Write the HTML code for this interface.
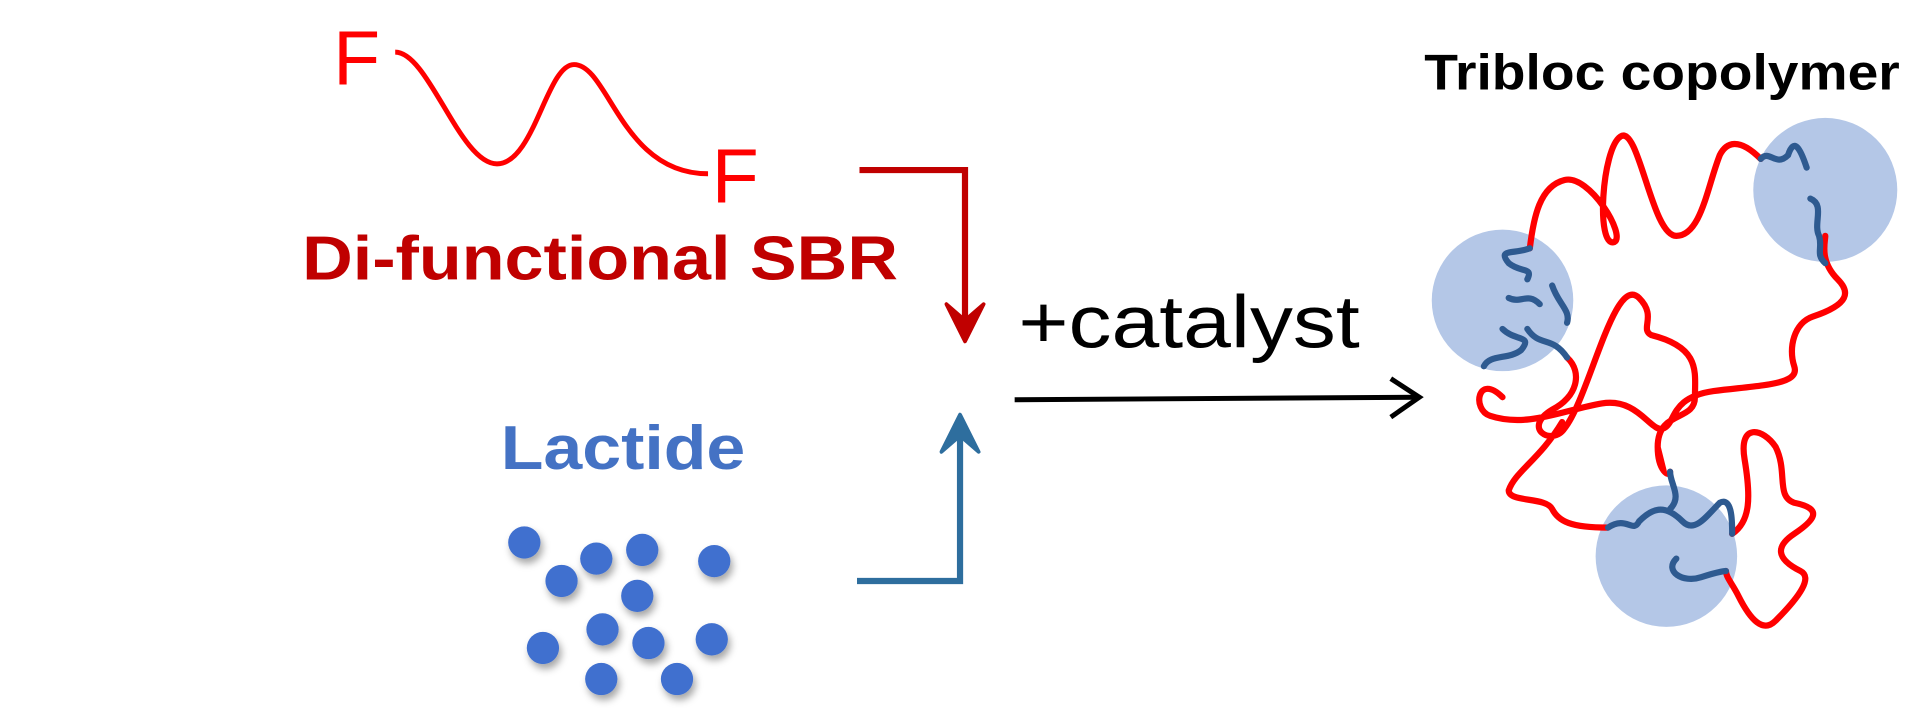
<!DOCTYPE html>
<html><head><meta charset="utf-8"><style>html,body{margin:0;padding:0;background:#fff}svg{display:block}</style></head>
<body>
<svg width="1930" height="720" viewBox="0 0 1554 580" xmlns="http://www.w3.org/2000/svg">
<defs><filter id="sh" x="-50%" y="-50%" width="200%" height="200%"><feDropShadow dx="2" dy="4" stdDeviation="3" flood-color="#000" flood-opacity="0.35"/></filter></defs>
<text x="268" y="68" font-family="Liberation Sans, sans-serif" font-size="62" fill="#ff0000">F</text>
<text x="573" y="163" font-family="Liberation Sans, sans-serif" font-size="62" fill="#ff0000">F</text>
<path d="M318,42 C345,42 370,132 400,132 C430,132 440,52 462,52 C490,52 500,140 570,140" fill="none" stroke="#ff0000" stroke-width="4"/>
<text x="243" y="225" font-family="Liberation Sans, sans-serif" font-weight="bold" font-size="50" fill="#c00000" textLength="480" lengthAdjust="spacingAndGlyphs">Di-functional SBR</text>
<polyline points="692,137 777,137 777,262" fill="none" stroke="#c00000" stroke-width="5"/>
<path d="M762,245 L777,275 L792,245 L777,258 Z" fill="#c00000" stroke="#c00000" stroke-width="3" stroke-linejoin="round"/>
<text x="820" y="280" font-family="Liberation Sans, sans-serif" font-size="60" fill="#000" textLength="275" lengthAdjust="spacingAndGlyphs">+catalyst</text>
<line x1="817" y1="322" x2="1141" y2="320" stroke="#000" stroke-width="4"/>
<path d="M1120,305 L1143,320 L1120,336" fill="none" stroke="#000" stroke-width="4"/>
<polyline points="690,468 773,468 773,345" fill="none" stroke="#2e6e9e" stroke-width="5"/>
<path d="M758,364 L773,334 L788,364 L773,351 Z" fill="#2e6e9e" stroke="#2e6e9e" stroke-width="3" stroke-linejoin="round"/>
<text x="403" y="378" font-family="Liberation Sans, sans-serif" font-weight="bold" font-size="50" fill="#4472c4" textLength="197" lengthAdjust="spacingAndGlyphs">Lactide</text>
<g fill="#3f6fcf" filter="url(#sh)">
<circle cx="422" cy="437" r="13"/><circle cx="480" cy="450" r="13"/><circle cx="517" cy="443" r="13"/><circle cx="575" cy="452" r="13"/>
<circle cx="452" cy="468" r="13"/><circle cx="513" cy="480" r="13"/><circle cx="485" cy="507" r="13"/><circle cx="522" cy="518" r="13"/>
<circle cx="573" cy="515" r="13"/><circle cx="437" cy="522" r="13"/><circle cx="484" cy="547" r="13"/><circle cx="545" cy="547" r="13"/>
</g>
<text x="1147" y="72" font-family="Liberation Sans, sans-serif" font-weight="bold" font-size="40" fill="#000" textLength="383" lengthAdjust="spacingAndGlyphs">Tribloc copolymer</text>
<circle cx="1470" cy="153" r="58" fill="#b4c7e7"/>
<circle cx="1210" cy="242" r="57" fill="#b4c7e7"/>
<circle cx="1342" cy="448" r="57" fill="#b4c7e7"/>
<path d="M1418,128 C1400,110 1390,115 1385,125 C1375,150 1370,190 1350,190 C1330,190 1320,100 1305,110 C1290,120 1285,200 1300,195 C1310,190 1280,140 1260,145 C1240,150 1235,175 1232,200
M1210,320 C1190,300 1185,330 1200,335 C1230,345 1260,330 1290,325 C1320,320 1330,350 1340,345 C1350,340 1345,320 1380,315 C1420,310 1450,310 1445,295 C1440,280 1445,260 1460,255 C1490,245 1490,235 1480,225 C1465,210 1470,195 1470,190
M1262,288 C1275,300 1270,320 1250,330 C1225,345 1250,360 1260,345 C1280,320 1300,220 1320,240 C1335,255 1320,265 1330,270 C1370,280 1365,300 1365,320 C1365,340 1335,330 1335,360 C1335,380 1345,385 1345,380
M1258,340 C1240,370 1220,380 1215,395 C1215,405 1245,400 1250,410 C1255,420 1265,425 1295,425
M1395,430 C1410,420 1410,400 1405,370 C1400,340 1420,345 1430,360 C1440,380 1430,400 1445,405 C1470,410 1460,420 1445,430 C1430,440 1430,450 1450,460 C1460,465 1450,480 1430,500 C1420,510 1410,500 1400,480 C1395,470 1390,465 1390,460" fill="none" stroke="#ff0000" stroke-width="5" stroke-linecap="round"/>
<path d="M1418,128 C1425,120 1430,135 1440,125 C1445,110 1450,120 1455,135 M1458,160 C1470,165 1460,180 1465,190 C1468,200 1462,205 1470,212
M1232,200 C1220,205 1205,200 1215,212 C1225,220 1235,215 1230,225 M1215,240 C1225,245 1230,235 1240,245 M1250,230 C1255,245 1265,250 1262,260 M1210,265 C1220,275 1235,270 1225,282 C1215,290 1200,285 1195,295 M1230,265 C1240,280 1250,270 1262,288
M1295,425 C1310,415 1315,430 1320,420 M1320,420 C1330,410 1340,405 1355,420 C1365,430 1375,415 1385,405 C1395,400 1395,420 1395,430 M1345,380 C1345,390 1355,400 1345,410 M1350,450 C1340,460 1355,470 1370,465 C1385,460 1390,460 1390,460" fill="none" stroke="#2e5a90" stroke-width="5" stroke-linecap="round"/>
</svg>
</body></html>
